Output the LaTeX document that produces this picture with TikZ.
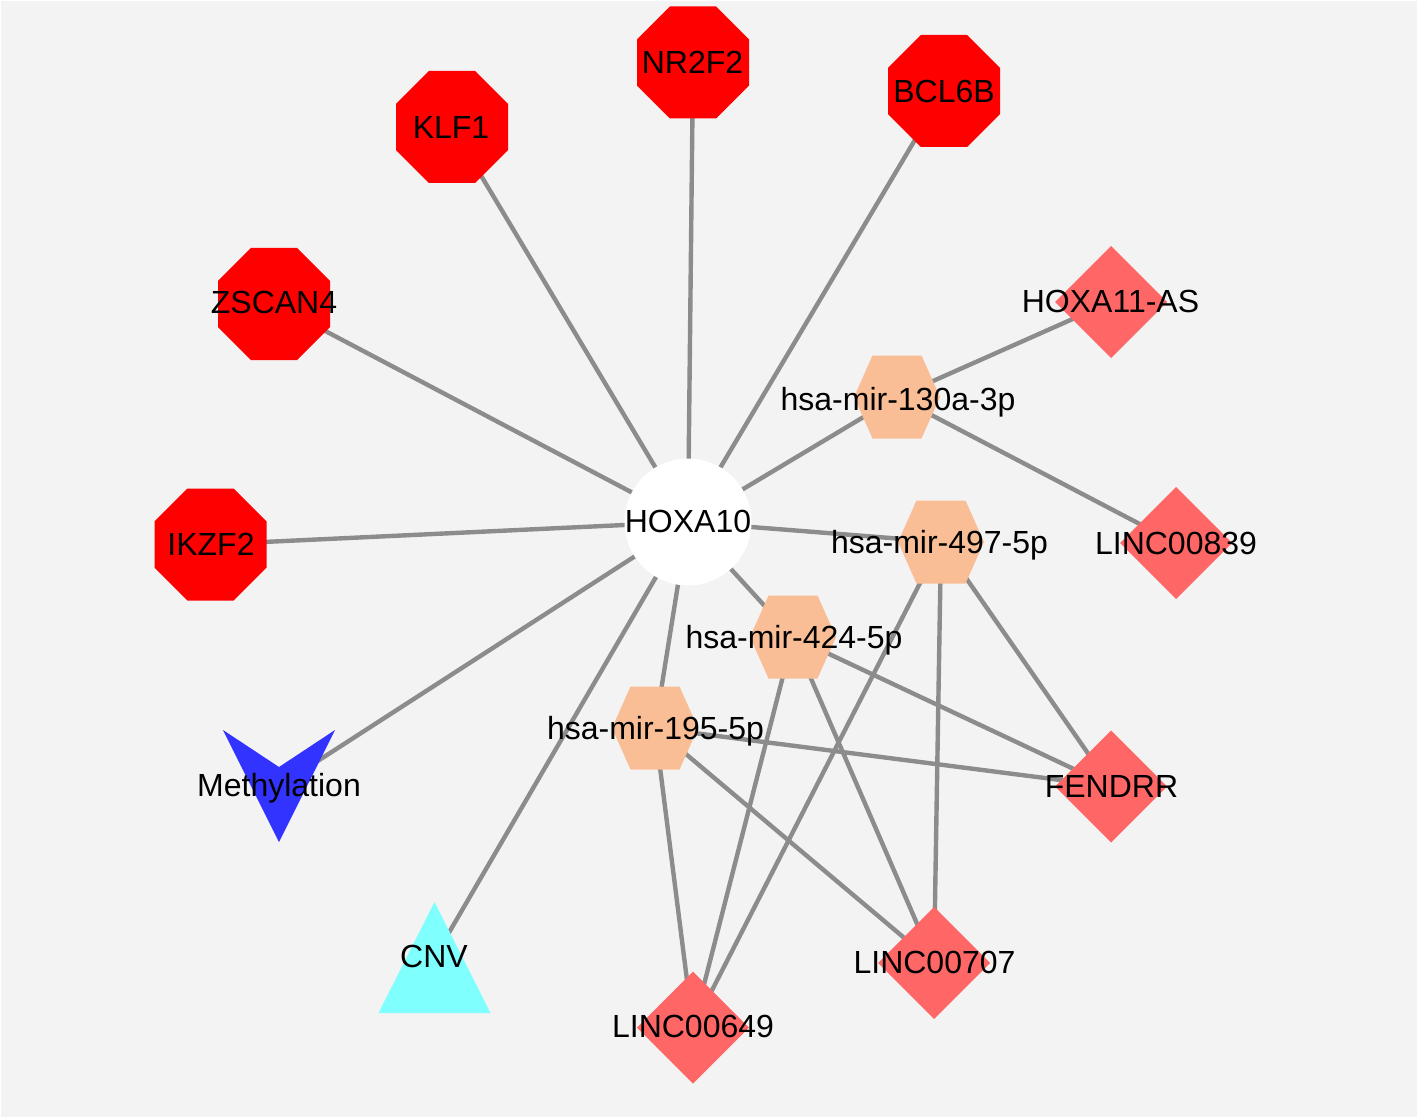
\documentclass[tikz,border=0pt]{standalone}
\usepackage{fontspec}
\setmainfont{Liberation Sans}
\definecolor{bgc}{RGB}{243,243,243}
\definecolor{edgec}{RGB}{140,140,140}
\definecolor{octc}{RGB}{255,0,0}
\definecolor{diac}{RGB}{255,102,102}
\definecolor{hexc}{RGB}{250,190,150}
\definecolor{vc}{RGB}{51,51,255}
\definecolor{tric}{RGB}{128,255,255}
\tikzset{
  edge/.style={draw=edgec, line width=2.2pt},
  lbl/.style={inner sep=0pt, text height=11.46pt, text depth=0pt, font=\fontsize{16}{19}\selectfont, text=black},
  octpic/.pic={\fill[octc] (-23.2,-56) -- (23.2,-56) -- (56,-23.2) -- (56,23.2) -- (23.2,56) -- (-23.2,56) -- (-56,23.2) -- (-56,-23.2) -- cycle;},
  hexpic/.pic={\fill[hexc] (-24.5,-41.5) -- (24.5,-41.5) -- (43,0) -- (24.5,41.5) -- (-24.5,41.5) -- (-43,0) -- cycle;},
  diapic/.pic={\fill[diac] (0,-56) -- (56,0) -- (0,56) -- (-56,0) -- cycle;},
  vpic/.pic={\fill[vc] (-56,-56) -- (0,-19) -- (56,-56) -- (0,56) -- cycle;},
  tripic/.pic={\fill[tric] (0,-55.5) -- (56,55.5) -- (-56,55.5) -- cycle;},
  circpic/.pic={\fill[white] (0,0) circle[radius=31.75pt];}
}
\begin{document}
\begin{tikzpicture}[x=0.5pt,y=-0.5pt]
\useasboundingbox (0,0) rectangle (1418,1118);
\fill[white] (0,0) rectangle (1418,1118);
\fill[bgc] (1,1) rectangle (1417,1117);
% shape centres
\coordinate (hox) at (688,522);
\coordinate (nr2f2) at (693,62.5);
\coordinate (bcl6b) at (944,91);
\coordinate (klf1) at (452,127);
\coordinate (zscan4) at (274,304);
\coordinate (ikzf2) at (210.5,544.5);
\coordinate (meth) at (279,786);
\coordinate (cnv) at (434.5,957.5);
\coordinate (m130) at (897,397);
\coordinate (m497) at (941,542);
\coordinate (m424) at (793,637);
\coordinate (m195) at (655,728);
\coordinate (hoxa11) at (1111,302);
\coordinate (linc839) at (1176,543);
\coordinate (fendrr) at (1111,786.5);
\coordinate (linc707) at (934,963);
\coordinate (linc649) at (693,1027.5);
% edges
\foreach \t in {nr2f2,bcl6b,klf1,zscan4,ikzf2,meth,cnv,m130,m497,m424,m195}
  \draw[edge] (hox) -- (\t);
\draw[edge] (m130) -- (hoxa11);
\draw[edge] (m130) -- (linc839);
\foreach \m in {m497,m424,m195}{
  \draw[edge] (\m) -- (fendrr);
  \draw[edge] (\m) -- (linc707);
  \draw[edge] (\m) -- (linc649);
}
% shapes
\pic at (hox) {circpic};
\foreach \t in {nr2f2,bcl6b,klf1,zscan4,ikzf2} \pic at (\t) {octpic};
\pic at (meth) {vpic};
\pic at (cnv) {tripic};
\foreach \t in {m130,m497,m424,m195} \pic at (\t) {hexpic};
\foreach \t in {hoxa11,linc839,fendrr,linc707,linc649} \pic at (\t) {diapic};
% labels
\node[lbl] (hox-l) at (688,521) {HOXA10};
\node[lbl] (nr2f2-l) at (692.5,62) {NR2F2};
\node[lbl] (bcl6b-l) at (944,91) {BCL6B};
\node[lbl] (klf1-l) at (451,127) {KLF1};
\node[lbl] (zscan4-l) at (274,302) {ZSCAN4};
\node[lbl] (ikzf2-l) at (211,544) {IKZF2};
\node[lbl] (meth-l) at (279,785) {Methylation};
\node[lbl] (cnv-l) at (434,956) {CNV};
\node[lbl] (m130-l) at (898,399) {hsa-mir-130a-3p};
\node[lbl] (m497-l) at (939.5,542.5) {hsa-mir-497-5p};
\node[lbl] (m424-l) at (794,637) {hsa-mir-424-5p};
\node[lbl] (m195-l) at (655.5,728) {hsa-mir-195-5p};
\node[lbl] (hoxa11-l) at (1110.5,301.5) {HOXA11-AS};
\node[lbl] (linc839-l) at (1176,543) {LINC00839};
\node[lbl] (fendrr-l) at (1111.5,786) {FENDRR};
\node[lbl] (linc707-l) at (934.5,962) {LINC00707};
\node[lbl] (linc649-l) at (693,1026) {LINC00649};
\end{tikzpicture}
\end{document}
